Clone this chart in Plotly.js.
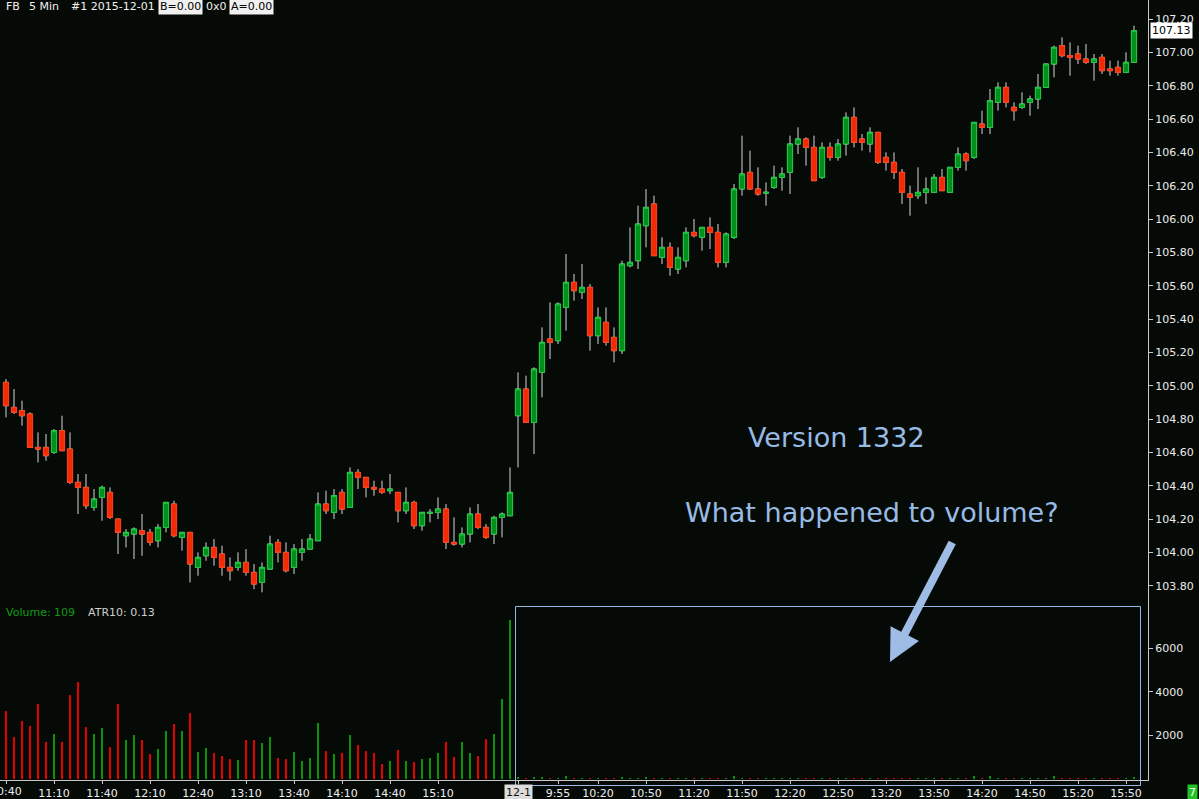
<!DOCTYPE html>
<html><head><meta charset="utf-8">
<script src="https://cdn.plot.ly/plotly-3.0.1.min.js"></script>
<style>html,body{margin:0;padding:0;background:#060a06;}#chart{width:1199px;height:799px;}</style>
</head><body><div id="chart"></div>
<script>
// ---- data ----
const opens = [105.02,104.87,104.85,104.83,104.63,104.63,104.60,104.73,104.62,104.42,
104.39,104.27,104.33,104.36,104.20,104.10,104.11,104.13,104.12,104.07,
104.15,104.29,104.09,104.12,103.91,103.98,104.03,103.99,103.91,103.91,
103.94,103.88,103.82,103.90,104.06,104.00,103.91,104.00,104.02,104.07,
104.29,104.24,104.36,104.27,104.48,104.45,104.39,104.38,104.37,104.36,
104.25,104.30,104.16,104.235,104.24,104.26,104.06,104.05,104.11,104.23,
104.15,104.11,104.21,104.22,
104.82,104.98,104.78,105.08,105.28,105.27,105.47,105.62,105.56,105.59,
105.30,105.38,105.29,105.21,105.72,105.75,105.96,106.09,105.77,105.83,
105.70,105.75,105.92,105.89,105.95,105.92,105.74,105.89,106.18,106.28,
106.18,106.155,106.19,106.25,106.28,106.45,106.48,106.43,106.25,106.43,
106.37,106.45,106.61,106.48,106.45,106.52,106.37,106.34,106.28,106.15,
106.14,106.16,106.16,106.25,106.16,106.31,106.39,106.37,106.57,106.55,
106.70,106.79,106.67,106.67,106.70,106.72,106.79,106.93,107.04,106.98,
106.99,106.96,106.94,106.97,106.90,106.91,106.88,106.94];
const highs = [105.04,104.98,104.91,104.84,104.72,104.71,104.74,104.82,104.72,104.47,
104.47,104.38,104.40,104.39,104.20,104.14,104.15,104.23,104.14,104.17,
104.30,104.31,104.12,104.12,104.00,104.06,104.08,104.04,103.97,104.00,
104.02,103.93,103.94,104.10,104.08,104.06,104.05,104.08,104.11,104.36,
104.37,104.38,104.38,104.51,104.50,104.45,104.43,104.43,104.47,104.36,
104.39,104.31,104.24,104.26,104.33,104.29,104.21,104.15,104.27,104.29,
104.17,104.22,104.24,104.51,
105.08,105.06,105.11,105.35,105.50,105.50,105.79,105.67,105.73,105.61,
105.47,105.47,105.35,105.75,105.95,106.08,106.18,106.14,105.89,105.86,
105.83,105.95,106.00,105.95,106.01,105.97,105.92,106.21,106.50,106.41,
106.31,106.22,106.32,106.31,106.50,106.55,106.49,106.50,106.46,106.46,
106.48,106.64,106.67,106.51,106.55,106.52,106.40,106.40,106.30,106.20,
106.31,106.25,106.27,106.30,106.31,106.43,106.40,106.58,106.65,106.78,
106.82,106.82,106.70,106.76,106.74,106.87,106.93,107.04,107.09,107.06,
107.04,107.05,106.99,106.99,106.95,106.95,107.00,107.16];
const lows = [104.81,104.83,104.76,104.63,104.54,104.55,104.59,104.61,104.41,104.23,
104.26,104.25,104.19,104.20,103.99,104.03,103.96,103.98,104.04,104.03,
104.12,104.09,104.01,103.82,103.86,103.95,103.92,103.86,103.83,103.89,
103.86,103.78,103.76,103.90,103.94,103.88,103.87,103.95,104.02,104.07,
104.23,104.20,104.23,104.27,104.38,104.33,104.34,104.35,104.35,104.18,
104.23,104.14,104.13,104.18,104.20,104.02,104.04,104.03,104.06,104.14,
104.08,104.05,104.09,104.22,
104.51,104.78,104.59,104.93,105.16,105.25,105.33,105.51,105.52,105.21,
105.25,105.24,105.14,105.19,105.71,105.70,105.83,105.78,105.73,105.66,
105.67,105.71,105.89,105.81,105.82,105.71,105.71,105.88,106.14,106.18,
106.14,106.08,106.18,106.17,106.15,106.39,106.32,106.23,106.24,106.35,
106.35,106.38,106.43,106.41,106.40,106.33,106.29,106.24,106.09,106.02,
106.12,106.09,106.16,106.17,106.16,106.29,106.29,106.36,106.51,106.51,
106.65,106.67,106.59,106.66,106.62,106.66,106.79,106.85,106.97,106.86,
106.93,106.93,106.83,106.87,106.86,106.86,106.88,106.94];
const closes = [104.88,104.84,104.82,104.63,104.62,104.58,104.73,104.61,104.42,104.39,
104.28,104.32,104.39,104.21,104.12,104.12,104.14,104.11,104.06,104.15,
104.30,104.10,104.12,103.93,103.97,104.03,103.97,103.91,103.89,103.94,
103.88,103.81,103.91,104.05,104.00,103.89,104.02,104.02,104.08,104.29,
104.25,104.34,104.26,104.48,104.45,104.39,104.38,104.36,104.38,104.25,
104.30,104.16,104.24,104.24,104.26,104.06,104.05,104.11,104.23,104.15,
104.09,104.21,104.23,104.36,
104.98,104.78,105.10,105.26,105.26,105.49,105.62,105.57,105.59,105.30,
105.41,105.26,105.21,105.73,105.74,105.97,106.07,105.78,105.83,105.71,
105.77,105.92,105.90,105.95,105.92,105.74,105.91,106.18,106.27,106.18,
106.15,106.16,106.25,106.27,106.45,106.48,106.43,106.23,106.43,106.37,
106.45,106.61,106.46,106.46,106.52,106.34,106.34,106.28,106.16,106.13,
106.16,106.18,106.25,106.17,106.31,106.39,106.35,106.58,106.55,106.71,
106.79,106.70,106.65,106.69,106.72,106.79,106.93,107.03,106.98,106.97,
106.96,106.94,106.96,106.89,106.89,106.88,106.94,107.13];
const volumes = [3130,1920,2670,2420,3440,1720,2050,1720,3880,4480,
2390,2090,2340,1490,3440,1770,2000,1770,1160,1400,
2190,2510,2190,3020,1260,1440,1210,1070,930,880,
1810,1810,1670,1910,980,930,1260,840,980,2560,
1300,1160,1210,2000,1580,1300,1210,700,840,1350,
840,790,930,980,1210,1720,1020,1720,1210,1070,
1860,2050,3670,7300,
90,60,70,80,50,60,140,50,40,60,
50,45,40,70,40,60,80,60,45,40,
55,45,50,40,40,40,45,130,60,40,
40,45,40,50,35,40,40,45,50,40,
40,35,45,40,40,40,35,35,40,40,
40,30,35,40,35,40,40,130,40,130,
40,40,45,40,40,40,40,140,40,40,
45,40,40,45,50,45,40,109];

// bar times: 11-30 from 10:40, 12-01 from 9:30, 5 minute bars to 15:55
function sessionTimes(h, m) {
  const out = [];
  while (h < 16) { out.push(h + ':' + String(m).padStart(2, '0')); m += 5; if (m >= 60) { m -= 60; h++; } }
  return out;
}
const day1Times = sessionTimes(10, 40);
const day2Times = sessionTimes(9, 30);
const day1TickLabels = ["10:40","11:10","11:40","12:10","12:40","13:10","13:40","14:10","14:40","15:10"];
const day2TickLabels = ["9:30","9:55","10:20","10:50","11:20","11:50","12:20","12:50","13:20","13:50","14:20","14:50","15:20","15:50"];
const priceTicks = ["103.80","104.00","104.20","104.40","104.60","104.80","105.00","105.20","105.40","105.60","105.80","106.00","106.20","106.40","106.60","106.80","107.00","107.20"];
const volumeTicks = [2000, 4000, 6000];

// ---- build ----
const x = closes.map((_, i) => i);
const tickvals = [], ticktext = [];
day1TickLabels.forEach((t, k) => { tickvals.push(day1Times.indexOf(t)); ticktext.push(k === 0 ? '' : t); });
day2TickLabels.forEach((t, k) => { tickvals.push(day1Times.length + day2Times.indexOf(t)); ticktext.push(k === 0 ? '' : t); });
const day2Start = day1Times.length;

const bodyHi = opens.map((o, i) => Math.max(o, closes[i]));
const bodyLo = opens.map((o, i) => Math.min(o, closes[i]));
const volColors = closes.map((c, i) => c >= opens[i] ? '#0a920a' : '#e80000');

const GRAY = '#c9c9c9';
const WICK = '#d6d6d6';
const traces = [
  { type: 'candlestick', x: x, open: opens, high: highs, low: lows, close: closes,
    increasing: { line: { color: WICK, width: 1 }, fillcolor: WICK },
    decreasing: { line: { color: WICK, width: 1 }, fillcolor: WICK },
    whiskerwidth: 0, hoverinfo: 'skip', showlegend: false, xaxis: 'x', yaxis: 'y' },
  { type: 'candlestick', x: x, open: opens, high: bodyHi, low: bodyLo, close: closes,
    increasing: { line: { color: '#19c83c', width: 1 }, fillcolor: '#00901c' },
    decreasing: { line: { color: '#ff3a14', width: 1 }, fillcolor: '#f22a06' },
    whiskerwidth: 0, hoverinfo: 'skip', showlegend: false, xaxis: 'x', yaxis: 'y' },
  { type: 'bar', x: x, y: volumes, width: 0.28, marker: { color: volColors, line: { width: 0 } },
    hoverinfo: 'skip', showlegend: false, xaxis: 'x', yaxis: 'y2' }
];

const FONT = 'DejaVu Sans, Verdana, sans-serif';
const W = 1148, H = 780;
const px = v => v / W, py = v => (H - v) / H;
const lastClose = closes[closes.length - 1];

const hdr = (text, xpx, boxed) => ({
  xref: 'paper', yref: 'paper', x: px(xpx), y: py(7), xanchor: 'left', yanchor: 'middle',
  text: text, showarrow: false, font: { family: FONT, size: 11, color: boxed ? '#000' : '#f0f0f0' },
  bgcolor: boxed ? '#f0f0f0' : 'rgba(0,0,0,0)', borderpad: 1
});

const layout = {
  width: 1199, height: 799,
  margin: { l: 0, r: 51, t: 0, b: 19, pad: 0 },
  paper_bgcolor: '#060a06', plot_bgcolor: '#060a06',
  boxgap: 0.36, boxgroupgap: 0, boxmode: 'overlay',
  bargap: 0,
  font: { family: FONT, color: '#e6e6e6', size: 11 },
  xaxis: {
    range: [-0.75, 142.75], anchor: 'y2', rangeslider: { visible: false },
    showgrid: false, zeroline: false, showline: true, linecolor: GRAY, linewidth: 1,
    ticks: 'outside', ticklen: 3, tickcolor: GRAY, tickvals: tickvals, ticktext: ticktext,
    tickfont: { family: FONT, size: 11, color: '#ececec' }, fixedrange: true
  },
  yaxis: {
    domain: [0.2308, 1], side: 'right', anchor: 'x', range: [103.7145, 107.314],
    showgrid: false, zeroline: false, showline: true, linecolor: GRAY, linewidth: 1,
    ticks: 'outside', ticklen: 4, tickcolor: GRAY,
    tickvals: priceTicks.map(Number), ticktext: priceTicks,
    tickfont: { family: FONT, size: 11, color: '#ececec' }
  },
  yaxis2: {
    domain: [0, 0.2308], side: 'right', anchor: 'x', range: [-46, 8230],
    showgrid: false, zeroline: false, showline: true, linecolor: GRAY, linewidth: 1,
    ticks: 'outside', ticklen: 4, tickcolor: GRAY, tickvals: volumeTicks,
    tickfont: { family: FONT, size: 11, color: '#ececec' }
  },
  shapes: [
    { type: 'rect', xref: 'paper', yref: 'paper', x0: px(515.5), x1: px(1140.5), y0: py(785.5), y1: py(606.5),
      line: { color: '#9ab9e6', width: 1 }, fillcolor: 'rgba(0,0,0,0)' }
  ],
  annotations: [
    hdr('FB', 4), hdr('5 Min', 27), hdr('#1 2015-12-01', 69), hdr('B=0.00', 158, true), hdr('0x0', 204), hdr('A=0.00', 229, true),
    { xref: 'x', yref: 'paper', x: 0, y: py(791), xanchor: 'center', yanchor: 'middle', showarrow: false,
      text: day1TickLabels[0], font: { family: FONT, size: 11, color: '#ececec' } },
    { xref: 'paper', yref: 'paper', x: px(4), y: py(612), xanchor: 'left', yanchor: 'middle', showarrow: false,
      text: 'Volume: ' + volumes[volumes.length - 1], font: { family: FONT, size: 11, color: '#139a13' } },
    { xref: 'paper', yref: 'paper', x: px(86), y: py(612), xanchor: 'left', yanchor: 'middle', showarrow: false,
      text: 'ATR10: 0.13', font: { family: FONT, size: 11, color: '#cfcfcf' } },
    { xref: 'paper', yref: 'y', x: px(1150), y: lastClose, xanchor: 'left', yanchor: 'middle', showarrow: false,
      text: lastClose.toFixed(2), bgcolor: '#ffffff', borderpad: 1, font: { family: FONT, size: 11, color: '#000' } },
    { xref: 'x', yref: 'paper', x: day2Start, y: py(792), xanchor: 'center', yanchor: 'middle', showarrow: false,
      text: '12-1', bgcolor: '#dcdcdc', borderpad: 1, font: { family: FONT, size: 11, color: '#111' } },
    { xref: 'paper', yref: 'paper', x: px(1192.5), y: py(792.5), xanchor: 'center', yanchor: 'middle', showarrow: false,
      text: '7', bgcolor: '#22c322', borderpad: 1, font: { family: FONT, size: 11, color: '#ffffff' } },
    { xref: 'paper', yref: 'paper', x: px(837), y: py(437), xanchor: 'center', yanchor: 'middle', showarrow: false,
      text: 'Version 1332', font: { family: FONT, size: 27, color: '#98bbe6' } },
    { xref: 'paper', yref: 'paper', x: px(872), y: py(512), xanchor: 'center', yanchor: 'middle', showarrow: false,
      text: 'What happened to volume?', font: { family: FONT, size: 27, color: '#98bbe6' } },
    { xref: 'paper', yref: 'paper', x: px(890), y: py(662), text: '', showarrow: true,
      ax: 63, ay: -121, axref: 'pixel', ayref: 'pixel',
      arrowhead: 2, arrowsize: 0.8, arrowwidth: 8, arrowcolor: '#9ebce6' }
  ]
};

Plotly.newPlot('chart', traces, layout, { staticPlot: true, displayModeBar: false });
</script></body></html>
